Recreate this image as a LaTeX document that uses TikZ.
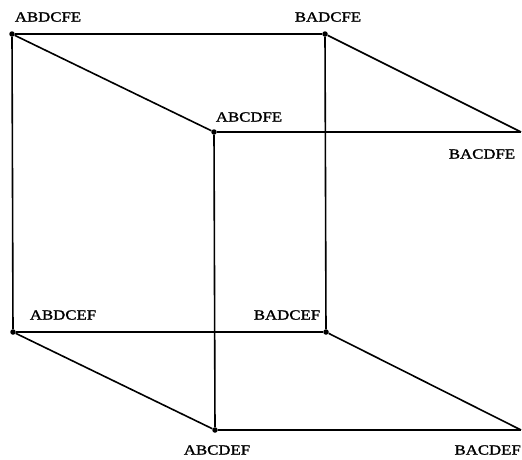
\documentclass[tikz,border=0pt]{standalone}
\usepackage{fontspec}
\newfontfamily\lblfont[FakeBold=1.5,FakeStretch=1.2]{Liberation Serif}
\begin{document}
\begin{tikzpicture}[x=1pt,y=-1pt,
  edge/.style={line width=1.6pt},
  vtx/.style={circle,fill=black,inner sep=0pt,minimum size=5.5pt},
  lbl/.style={font=\lblfont\fontsize{14}{14}\selectfont,inner sep=0pt}]
\useasboundingbox (0,0) rectangle (522,459);
\node[vtx] (a) at (12,34) {};
\node[vtx] (b) at (325,34) {};
\node[vtx] (c) at (214,132) {};
\coordinate (d) at (521,132);
\node[vtx] (e) at (13,332) {};
\node[vtx] (f) at (326,332) {};
\node[vtx] (g) at (215,430) {};
\coordinate (h) at (521,430);
\draw[edge] (a) -- (b);
\draw[edge] (a) -- (c);
\draw[edge] (a) -- (e);
\draw[edge] (b) -- (d);
\draw[edge] (b) -- (f);
\draw[edge] (c) -- (d);
\draw[edge] (c) -- (g);
\draw[edge] (e) -- (f);
\draw[edge] (e) -- (g);
\draw[edge] (f) -- (h);
\draw[edge] (g) -- (h);
\node[lbl] (la) at (48,17) {ABDCFE};
\node[lbl] (lb) at (328,17) {BADCFE};
\node[lbl] (lc) at (249,117) {ABCDFE};
\node[lbl] (ld) at (482,154) {BACDFE};
\node[lbl] (le) at (63,315) {ABDCEF};
\node[lbl] (lf) at (287,315) {BADCEF};
\node[lbl] (lg) at (217,450) {ABCDEF};
\node[lbl,anchor=east] (lh) at (521,450) {BACDEF};
\end{tikzpicture}
\end{document}
